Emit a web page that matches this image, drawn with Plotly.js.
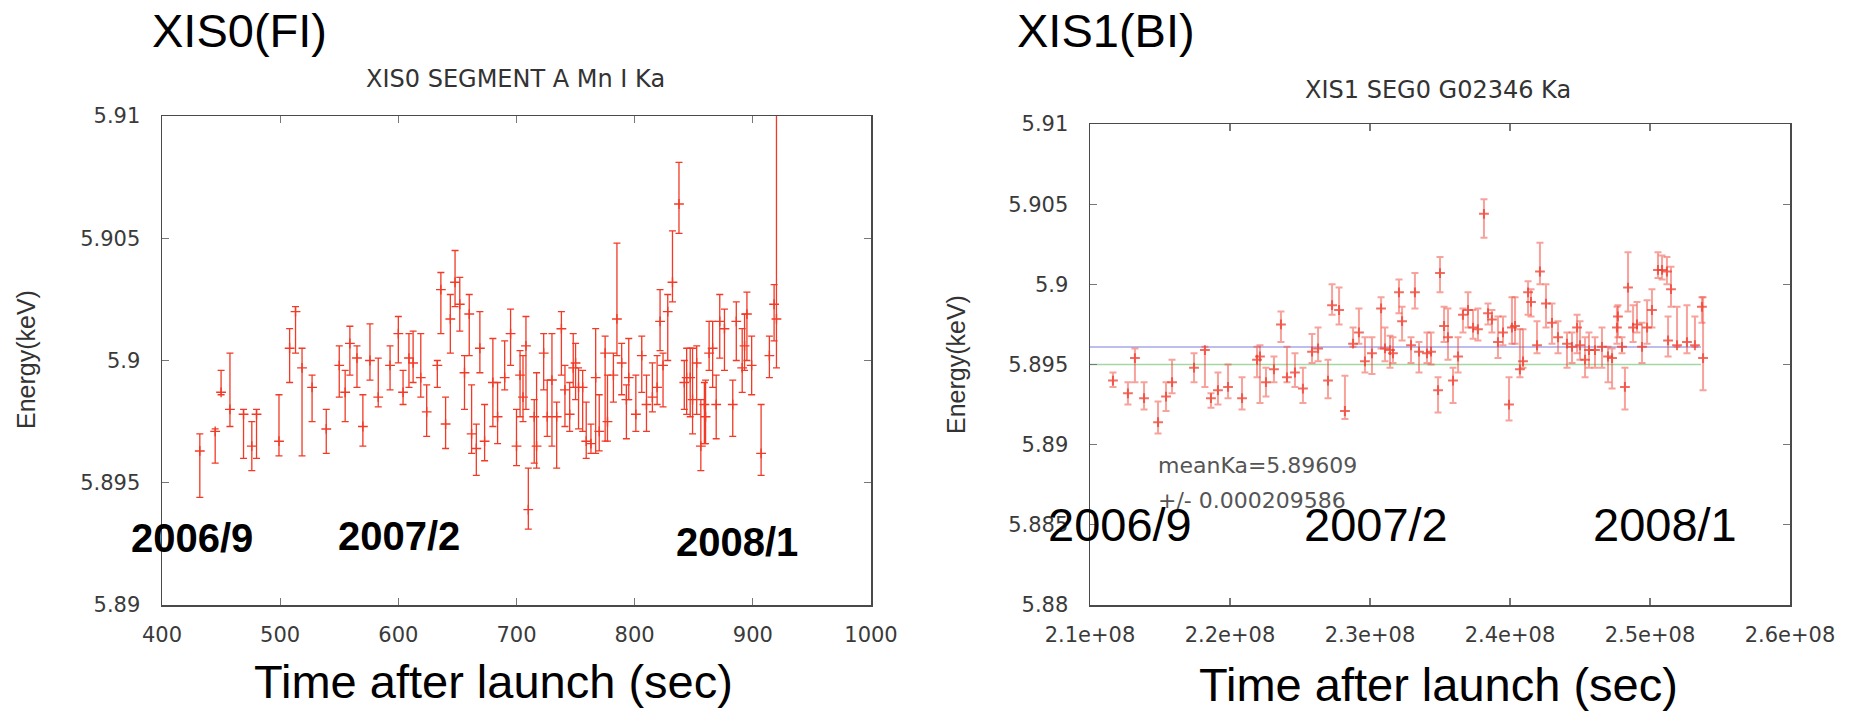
<!DOCTYPE html>
<html>
<head>
<meta charset="utf-8">
<script src="https://cdn.plot.ly/plotly-3.0.1.min.js"></script>
<style>
  html, body { margin: 0; padding: 0; background: #ffffff; }
  #chart { width: 1854px; height: 711px; }
</style>
</head>
<body>
<div id="chart"></div>
<script>
// ---------------- DATA ----------------
// XIS0 (FI) : time after launch vs Mn I Ka energy (keV)
const xis0Time = [432,445,450,457.5,469,476,480,499,508,513,518.5,527,539,550,555,559,565,570,576,583,593,600,604,609,612.5,619,624,633,636,640,644,648,652,656,660,662,666,669,673,680,684,690,695,700,703,705.5,708,710,715,717,723,726,730,734,738,741,745,748,750,752.5,756,759,763,767,770,775,777,782,785,789,793,795,801,806,810,815,819,821.5,824,828,832,837.5,842,844,847,849,852.5,856,859,860,863,866,869,872,876,883,886,891,893,895,899,907,914,918,920];
const xis0Energy = [5.8963,5.8971,5.8987,5.8980,5.8978,5.8965,5.8978,5.8967,5.9005,5.9020,5.8997,5.8989,5.8972,5.8998,5.8987,5.9007,5.9001,5.8973,5.9000,5.8985,5.8998,5.9011,5.8987,5.9001,5.8999,5.8993,5.8979,5.8998,5.9029,5.8974,5.9017,5.9032,5.9023,5.8995,5.9019,5.8970,5.8964,5.9005,5.8967,5.8991,5.8977,5.8993,5.9011,5.8965,5.8994,5.8985,5.9006,5.8939,5.8977,5.8965,5.9003,5.8977,5.8992,5.8977,5.9013,5.8988,5.8978,5.8997,5.8999,5.8989,5.8989,5.8967,5.8966,5.8993,5.8971,5.9003,5.8975,5.8994,5.9017,5.8999,5.8984,5.8993,5.8978,5.9002,5.8982,5.8985,5.8989,5.9016,5.8998,5.9020,5.9032,5.9064,5.8991,5.8993,5.8993,5.8984,5.8999,5.8965,5.8982,5.8977,5.9003,5.9005,5.8982,5.9016,5.9013,5.8982,5.9016,5.8997,5.9006,5.9019,5.8998,5.8962,5.9002,5.9023,5.9017];
const xis0Upper = [5.8970,5.8972,5.8996,5.9003,5.8980,5.8975,5.8980,5.8986,5.9013,5.9022,5.9005,5.8994,5.8980,5.9006,5.8996,5.9014,5.9006,5.8986,5.9015,5.9001,5.9006,5.9018,5.8996,5.9011,5.9012,5.9011,5.8990,5.9000,5.9036,5.8985,5.9027,5.9045,5.9034,5.9002,5.9027,5.8990,5.8974,5.9020,5.8982,5.9009,5.8991,5.9008,5.9021,5.8980,5.9004,5.9002,5.9018,5.8956,5.8984,5.8995,5.9011,5.8992,5.9011,5.8983,5.9020,5.8998,5.8991,5.9011,5.9007,5.8997,5.8996,5.8983,5.8974,5.9013,5.8986,5.9010,5.8994,5.9003,5.9048,5.9007,5.8990,5.9009,5.8994,5.9010,5.8994,5.8999,5.9002,5.9029,5.9003,5.9027,5.9053,5.9081,5.9000,5.9005,5.9005,5.9005,5.9006,5.8984,5.8991,5.8992,5.9016,5.9016,5.8994,5.9027,5.9021,5.8992,5.9024,5.9013,5.9019,5.9028,5.9010,5.8982,5.9010,5.9031,5.9120];
const xis0Lower = [5.8944,5.8958,5.8986,5.8973,5.8960,5.8955,5.8960,5.8961,5.8991,5.9003,5.8961,5.8975,5.8962,5.8985,5.8975,5.8994,5.8989,5.8965,5.8992,5.8981,5.8988,5.8999,5.8982,5.8989,5.8991,5.8985,5.8969,5.8989,5.9011,5.8964,5.9003,5.9022,5.9012,5.8980,5.9002,5.8962,5.8953,5.8995,5.8959,5.8973,5.8966,5.8988,5.8998,5.8957,5.8977,5.8975,5.8980,5.8931,5.8958,5.8956,5.8988,5.8969,5.8965,5.8956,5.8994,5.8973,5.8971,5.8989,5.8984,5.8972,5.8971,5.8960,5.8962,5.8962,5.8963,5.8967,5.8967,5.8983,5.9002,5.8986,5.8968,5.8984,5.8971,5.8987,5.8971,5.8979,5.8982,5.9004,5.8981,5.9000,5.9024,5.9052,5.8980,5.8978,5.8977,5.8970,5.8978,5.8955,5.8966,5.8966,5.8996,5.8989,5.8968,5.9001,5.8996,5.8969,5.9000,5.8987,5.8996,5.9000,5.8986,5.8953,5.8993,5.9008,5.8997];

// XIS1 (BI) : time (s) vs Ka energy (keV)
const xis1Time = [2.1164e8,2.1271e8,2.1321e8,2.1386e8,2.1486e8,2.1543e8,2.1586e8,2.1743e8,2.1821e8,2.1864e8,2.1914e8,2.1986e8,2.2086e8,2.2193e8,2.2214e8,2.2257e8,2.2314e8,2.2364e8,2.2407e8,2.2464e8,2.2521e8,2.2586e8,2.2629e8,2.2700e8,2.2729e8,2.2779e8,2.2821e8,2.2879e8,2.2921e8,2.2964e8,2.3014e8,2.3079e8,2.3107e8,2.3143e8,2.3164e8,2.3207e8,2.3229e8,2.3293e8,2.3321e8,2.3350e8,2.3407e8,2.3436e8,2.3486e8,2.3500e8,2.3529e8,2.3557e8,2.3593e8,2.3629e8,2.3664e8,2.3700e8,2.3736e8,2.3771e8,2.3814e8,2.3843e8,2.3871e8,2.3914e8,2.3950e8,2.3993e8,2.4014e8,2.4036e8,2.4071e8,2.4093e8,2.4129e8,2.4150e8,2.4193e8,2.4214e8,2.4257e8,2.4300e8,2.4343e8,2.4407e8,2.4443e8,2.4479e8,2.4500e8,2.4536e8,2.4564e8,2.4607e8,2.4657e8,2.4700e8,2.4729e8,2.4764e8,2.4771e8,2.4800e8,2.4821e8,2.4843e8,2.4879e8,2.4907e8,2.4943e8,2.4979e8,2.5014e8,2.5057e8,2.5086e8,2.5121e8,2.5129e8,2.5150e8,2.5193e8,2.5264e8,2.5321e8,2.5371e8,2.5379e8];
const xis1Energy = [5.8940,5.8932,5.8954,5.8929,5.8914,5.8930,5.8939,5.8948,5.8959,5.8929,5.8934,5.8936,5.8929,5.8953,5.8955,5.8939,5.8947,5.8975,5.8942,5.8945,5.8935,5.8958,5.8960,5.8940,5.8987,5.8984,5.8921,5.8963,5.8970,5.8952,5.8957,5.8985,5.8960,5.8959,5.8957,5.8995,5.8977,5.8962,5.8995,5.8958,5.8957,5.8958,5.8934,5.9007,5.8974,5.8967,5.8940,5.8955,5.8981,5.8984,5.8973,5.8972,5.9044,5.8982,5.8978,5.8964,5.8970,5.8925,5.8973,5.8974,5.8947,5.8952,5.8995,5.8989,5.8962,5.9008,5.8988,5.8976,5.8967,5.8963,5.8961,5.8973,5.8962,5.8953,5.8959,5.8959,5.8961,5.8955,5.8954,5.8973,5.8980,5.8961,5.8936,5.8998,5.8973,5.8975,5.8961,5.8973,5.8984,5.9009,5.9009,5.9008,5.8965,5.8997,5.8962,5.8964,5.8962,5.8986,5.8954];
const xis1Upper = [5.8945,5.8939,5.8960,5.8939,5.8927,5.8939,5.8953,5.8957,5.8961,5.8932,5.8945,5.8950,5.8942,5.8961,5.8962,5.8948,5.8955,5.8983,5.8961,5.8957,5.8948,5.8969,5.8973,5.8953,5.9000,5.8998,5.8943,5.8973,5.8985,5.8967,5.8967,5.8992,5.8973,5.8968,5.8967,5.9003,5.8986,5.8967,5.9007,5.8964,5.8970,5.8970,5.8942,5.9017,5.8986,5.8985,5.8948,5.8967,5.8985,5.8995,5.8984,5.8985,5.9053,5.8988,5.8984,5.8980,5.8980,5.8942,5.8992,5.8992,5.8972,5.8972,5.9002,5.8997,5.8977,5.9026,5.9000,5.8988,5.8977,5.8970,5.8970,5.8981,5.8977,5.8967,5.8970,5.8967,5.8973,5.8961,5.8960,5.8986,5.8987,5.8967,5.8948,5.9020,5.8987,5.8989,5.8976,5.8990,5.8997,5.9020,5.9018,5.9017,5.8980,5.9011,5.8986,5.8987,5.8980,5.8992,5.8992];
const xis1Lower = [5.8936,5.8925,5.8939,5.8922,5.8907,5.8921,5.8932,5.8939,5.8936,5.8923,5.8925,5.8929,5.8922,5.8942,5.8926,5.8930,5.8939,5.8964,5.8939,5.8936,5.8926,5.8951,5.8952,5.8929,5.8981,5.8975,5.8916,5.8961,5.8963,5.8945,5.8944,5.8960,5.8952,5.8948,5.8951,5.8982,5.8965,5.8951,5.8985,5.8945,5.8951,5.8950,5.8920,5.8995,5.8964,5.8953,5.8926,5.8945,5.8970,5.8973,5.8966,5.8965,5.9029,5.8975,5.8970,5.8954,5.8962,5.8915,5.8963,5.8963,5.8942,5.8948,5.8981,5.8980,5.8957,5.9000,5.8973,5.8963,5.8957,5.8948,5.8951,5.8957,5.8953,5.8942,5.8948,5.8948,5.8948,5.8939,5.8935,5.8963,5.8967,5.8957,5.8922,5.8983,5.8964,5.8970,5.8951,5.8963,5.8973,5.9004,5.9003,5.9000,5.8955,5.8986,5.8961,5.8957,5.8961,5.8976,5.8934];

const meanKa = 5.89609;
const meanKaErr = "0.000209586";
const refKa = 5.895;
const refLineTime = [2.1e8, 2.5364e8];

const xis0XTicks = [400,500,600,700,800,900,1000];
const xis0YTicks = [5.89,5.895,5.9,5.905,5.91];
const xis0YTickText = ["5.89","5.895","5.9","5.905","5.91"];
const xis1XTicks = [2.1e8,2.2e8,2.3e8,2.4e8,2.5e8,2.6e8];
const xis1XTickText = ["2.1e+08","2.2e+08","2.3e+08","2.4e+08","2.5e+08","2.6e+08"];
const xis1YTicks = [5.88,5.885,5.89,5.895,5.9,5.905,5.91];
const xis1YTickText = ["5.88","5.885","5.89","5.895","5.9","5.905","5.91"];

const dateLabels = ["2006/9","2007/2","2008/1"];

// ---------------- BUILD ----------------
const W = 1854, H = 711;
const px = v => v / W;
const py = v => 1 - v / H;

function diff(a, b) { return a.map((v, i) => +(v - b[i]).toFixed(6)); }

const redL = '#f23a26';
const redR = 'rgba(242,70,58,0.5)';

const traces = [
  {
    x: xis0Time, y: xis0Energy, xaxis: 'x', yaxis: 'y',
    type: 'scatter', mode: 'markers', cliponaxis: true,
    marker: { symbol: 'cross-thin', size: 7, line: { width: 1.4, color: redL }, color: redL },
    error_y: { type: 'data', symmetric: false,
      array: diff(xis0Upper, xis0Energy), arrayminus: diff(xis0Energy, xis0Lower),
      color: redL, thickness: 1.3, width: 3.5 },
    hoverinfo: 'x+y'
  },
  {
    x: refLineTime, y: [meanKa, meanKa], xaxis: 'x2', yaxis: 'y2',
    type: 'scatter', mode: 'lines', line: { color: 'rgba(140,140,225,0.75)', width: 1.3 }, hoverinfo: 'skip'
  },
  {
    x: refLineTime, y: [refKa, refKa], xaxis: 'x2', yaxis: 'y2',
    type: 'scatter', mode: 'lines', line: { color: 'rgba(140,205,140,0.8)', width: 1.3 }, hoverinfo: 'skip'
  },
  {
    x: xis1Time, y: xis1Energy, xaxis: 'x2', yaxis: 'y2',
    type: 'scatter', mode: 'markers', cliponaxis: true,
    marker: { symbol: 'cross-thin', size: 7, line: { width: 2, color: 'rgba(240,60,45,0.75)' } },
    error_y: { type: 'data', symmetric: false,
      array: diff(xis1Upper, xis1Energy), arrayminus: diff(xis1Energy, xis1Lower),
      color: redR, thickness: 2, width: 3.5 },
    hoverinfo: 'x+y'
  }
];

const tickFont = { family: 'DejaVu Sans, sans-serif', size: 21, color: '#3a3a3a' };
const axBase = {
  showgrid: false, zeroline: false, showline: true, linecolor: '#4a4a4a', linewidth: 1.5,
  mirror: 'allticks', ticks: 'inside', ticklen: 7, tickwidth: 1.3, tickcolor: '#777',
  tickfont: tickFont, fixedrange: true
};

const bigFont = { family: 'Liberation Sans, Arial, sans-serif', size: 47, color: '#000' };
const subFont = { family: 'DejaVu Sans, sans-serif', size: 24, color: '#333' };
const noteFont = { family: 'DejaVu Sans, sans-serif', size: 22, color: '#555' };
const yTitleFont = { family: 'Liberation Sans, Arial, sans-serif', size: 25, color: '#333' };
const xTitleFont = { family: 'Liberation Sans, Arial, sans-serif', size: 47, color: '#000' };

const annotations = [
  { text: 'XIS0(FI)', x: px(150), y: py(31), xanchor: 'left', yanchor: 'middle', font: bigFont },
  { text: 'XIS1(BI)', x: px(1015), y: py(31), xanchor: 'left', yanchor: 'middle', font: bigFont },
  { text: 'XIS0 SEGMENT A Mn I Ka', x: px(515), y: py(79), xanchor: 'center', yanchor: 'middle', font: subFont },
  { text: 'XIS1 SEG0 G02346 Ka', x: px(1438), y: py(90), xanchor: 'center', yanchor: 'middle', font: subFont },
  { text: 'Energy(keV)', x: px(26), y: py(360), xanchor: 'center', yanchor: 'middle', textangle: -90, font: yTitleFont },
  { text: 'Energy(keV)', x: px(956), y: py(365), xanchor: 'center', yanchor: 'middle', textangle: -90, font: yTitleFont },
  { text: 'Time after launch (sec)', x: px(494), y: py(681), xanchor: 'center', yanchor: 'middle', font: xTitleFont },
  { text: 'Time after launch (sec)', x: px(1438), y: py(684), xanchor: 'center', yanchor: 'middle', font: xTitleFont },
  { text: 'meanKa=' + meanKa, x: px(1156), y: py(466), xanchor: 'left', yanchor: 'middle', font: noteFont },
  { text: '+/- ' + meanKaErr, x: px(1156), y: py(500), xanchor: 'left', yanchor: 'middle', font: noteFont }
];
// date labels
const boldFont = { family: 'Liberation Sans, Arial, sans-serif', size: 40, color: '#000', weight: 'bold' };
const dateFontR = { family: 'Liberation Sans, Arial, sans-serif', size: 47, color: '#000' };
const leftDatePos = [[129, 538], [336, 536], [674, 542]];
const rightDatePos = [[1046, 524], [1302, 524], [1591, 524]];
dateLabels.forEach((d, i) => {
  annotations.push({ text: '<b>' + d + '</b>', x: px(leftDatePos[i][0]), y: py(leftDatePos[i][1]),
    xanchor: 'left', yanchor: 'middle', font: boldFont });
  annotations.push({ text: d, x: px(rightDatePos[i][0]), y: py(rightDatePos[i][1]),
    xanchor: 'left', yanchor: 'middle', font: dateFontR });
});
annotations.forEach(a => { a.xref = 'paper'; a.yref = 'paper'; a.showarrow = false; });

const layout = {
  width: W, height: H,
  margin: { l: 0, r: 0, t: 0, b: 0 },
  paper_bgcolor: '#ffffff', plot_bgcolor: '#ffffff',
  showlegend: false,
  xaxis: Object.assign({}, axBase, {
    domain: [px(162), px(871)], anchor: 'y', range: [400, 1000],
    tickmode: 'array', tickvals: xis0XTicks, ticktext: xis0XTicks.map(String), ticklabelstandoff: 10
  }),
  yaxis: Object.assign({}, axBase, {
    domain: [py(605), py(116)], anchor: 'x', range: [5.89, 5.91],
    tickmode: 'array', tickvals: xis0YTicks, ticktext: xis0YTickText, ticklabelstandoff: 16
  }),
  xaxis2: Object.assign({}, axBase, {
    domain: [px(1090), px(1790)], anchor: 'y2', range: [2.1e8, 2.6e8],
    tickmode: 'array', tickvals: xis1XTicks, ticktext: xis1XTickText, ticklabelstandoff: 10
  }),
  yaxis2: Object.assign({}, axBase, {
    domain: [py(605), py(124)], anchor: 'x2', range: [5.88, 5.91],
    tickmode: 'array', tickvals: xis1YTicks, ticktext: xis1YTickText, ticklabelstandoff: 16
  }),
  annotations: annotations
};

Plotly.newPlot('chart', traces, layout, { staticPlot: true, displayModeBar: false });
</script>
</body>
</html>
